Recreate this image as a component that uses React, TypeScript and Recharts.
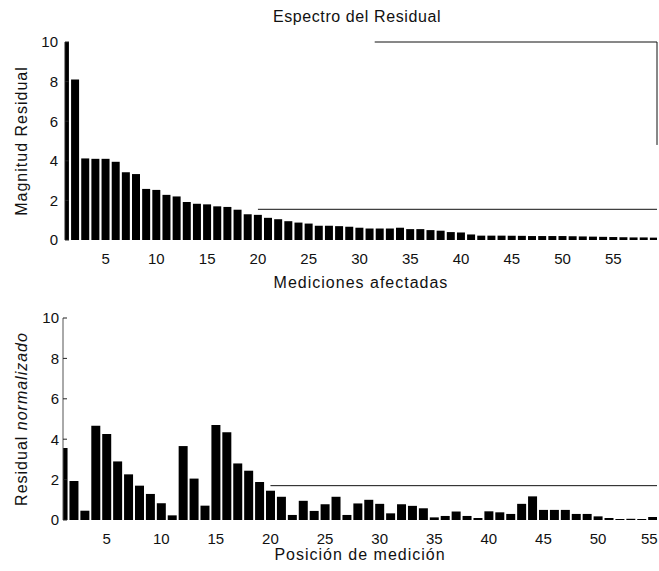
import { BarChart, Bar, XAxis, YAxis, ReferenceLine, Label } from 'recharts';

// Espectro del residual (panel superior)
const posicionesEspectro = [
  1, 2, 3, 4, 5, 6, 7, 8, 9, 10, 11, 12, 13, 14, 15, 16, 17, 18, 19, 20,
  21, 22, 23, 24, 25, 26, 27, 28, 29, 30, 31, 32, 33, 34, 35, 36, 37, 38, 39, 40,
  41, 42, 43, 44, 45, 46, 47, 48, 49, 50, 51, 52, 53, 54, 55, 56, 57, 58, 59,
];
const magnitudResidual = [
  10.0, 8.1, 4.12, 4.1, 4.1, 3.95, 3.42, 3.33, 2.58, 2.53, 2.28, 2.2, 1.92, 1.83, 1.8, 1.7, 1.67, 1.53, 1.3, 1.27,
  1.12, 1.05, 0.95, 0.88, 0.83, 0.72, 0.72, 0.7, 0.67, 0.62, 0.58, 0.58, 0.58, 0.62, 0.55, 0.55, 0.5, 0.47, 0.4, 0.38,
  0.28, 0.22, 0.22, 0.22, 0.21, 0.21, 0.2, 0.2, 0.2, 0.2, 0.19, 0.18, 0.17, 0.16, 0.15, 0.14, 0.13, 0.13, 0.12,
];

// Residual normalizado (panel inferior)
const posicionesMedicion = [
  1, 2, 3, 4, 5, 6, 7, 8, 9, 10, 11, 12, 13, 14, 15, 16, 17, 18, 19, 20,
  21, 22, 23, 24, 25, 26, 27, 28, 29, 30, 31, 32, 33, 34, 35, 36, 37, 38, 39, 40,
  41, 42, 43, 44, 45, 46, 47, 48, 49, 50, 51, 52, 53, 54, 55,
];
const residualNormalizado = [
  3.56, 1.93, 0.46, 4.67, 4.26, 2.9, 2.26, 1.7, 1.29, 0.83, 0.23, 3.66, 2.05, 0.71, 4.7, 4.34, 2.8, 2.44, 1.88, 1.45,
  1.15, 0.25, 0.95, 0.45, 0.78, 1.15, 0.25, 0.82, 1.0, 0.8, 0.33, 0.78, 0.7, 0.58, 0.13, 0.2, 0.42, 0.2, 0.1, 0.43,
  0.38, 0.3, 0.8, 1.17, 0.5, 0.5, 0.5, 0.3, 0.3, 0.18, 0.1, 0.05, 0.06, 0.05, 0.15,
];

const ticksX = [5, 10, 15, 20, 25, 30, 35, 40, 45, 50, 55];
const ticksArribaEspectro = [30, 35, 40, 45, 50, 55];
const ticksY = [0, 2, 4, 6, 8, 10];
const ticksDerecha = [2, 4, 6, 8];

// lineas horizontales sueltas que se ven en el escaneo
const nivelEspectro = 1.55;
const nivelMedicion = 1.7;

const espectroRows = posicionesEspectro.map((pos, i) => ({ pos, magnitud: magnitudResidual[i] }));
const medicionRows = posicionesMedicion.map((pos, i) => ({ pos, residual: residualNormalizado[i] }));

const FUENTE = '"Liberation Sans", Arial, Helvetica, sans-serif';
const tickStyle = { fontSize: 15, fill: '#111', fontFamily: FUENTE };
const textoEje = { fontSize: 16, fill: '#111', fontFamily: FUENTE, letterSpacing: 1 };

const TituloX = ({ viewBox, texto, dy }: any) => {
  const cx = viewBox.x + viewBox.width / 2;
  return (
    <text x={cx} y={viewBox.y + dy} textAnchor="middle" style={textoEje}>
      {texto}
    </text>
  );
};

const TituloY = ({ viewBox, children }: any) => {
  const cx = 27;
  const cy = viewBox.y + viewBox.height / 2;
  return (
    <text x={cx} y={cy} transform={`rotate(-90, ${cx}, ${cy})`} textAnchor="middle" style={textoEje}>
      {children}
    </text>
  );
};

// el ultimo numero queda pegado al borde derecho, se alinea a la derecha
const TickPosicion = ({ x, y, payload }: any) => {
  const ultimo = payload.value === ticksX[ticksX.length - 1];
  return (
    <text
      x={ultimo ? x + 5 : x} y={y} dy="0.71em" textAnchor={ultimo ? 'end' : 'middle'}
      fontSize={15} fill="#111" fontFamily={FUENTE}
    >
      {payload.value}
    </text>
  );
};

const App = () => {
  return (
    <div style={{ position: 'absolute', left: 0, top: 0, width: 659, height: 571, background: '#fff' }}>
      <div
        style={{
          position: 'absolute', left: 0, top: 8, width: 714, textAlign: 'center',
          fontFamily: FUENTE, fontSize: 16, letterSpacing: 0.6, color: '#111',
        }}
      >
        Espectro del Residual
      </div>

      {/* panel superior */}
      <div style={{ position: 'absolute', left: 0, top: 0 }}>
        <BarChart
          width={659} height={290} data={espectroRows} barSize={8}
          margin={{ top: 42, right: 0, bottom: 30, left: 0 }} style={{ overflow: 'visible' }}
        >
          <XAxis
            dataKey="pos" type="number" domain={[1, 59.3]} allowDataOverflow ticks={ticksX} interval={0}
            axisLine={false} tickLine={false} tick={tickStyle} tickMargin={7} height={20}
          >
            <Label content={(p: any) => <TituloX viewBox={p.viewBox} texto="Mediciones afectadas" dy={48} />} />
          </XAxis>
          <XAxis
            xAxisId="top" orientation="top" type="number" domain={[1, 59.3]} ticks={ticksArribaEspectro} interval={0}
            axisLine={false} tick={false} tickSize={-4} tickLine={{ stroke: '#222' }} height={0}
          />
          <YAxis
            type="number" domain={[0, 10]} ticks={ticksY} interval={0} width={65}
            axisLine={{ stroke: '#222' }} tickLine={{ stroke: '#222' }} tickSize={-4} tickMargin={11} tick={tickStyle}
          >
            <Label content={(p: any) => <TituloY viewBox={p.viewBox}>Magnitud Residual</TituloY>} />
          </YAxis>
          <YAxis
            yAxisId="right" orientation="right" type="number" domain={[0, 10]} ticks={ticksDerecha} interval={0} width={2}
            axisLine={false} tick={false} tickSize={-4} tickLine={{ stroke: '#222' }}
          />
          <Bar dataKey="magnitud" fill="#000" isAnimationActive={false} />
          <ReferenceLine segment={[{ x: 20, y: nivelEspectro }, { x: 59.3, y: nivelEspectro }]} stroke="#111" strokeWidth={1} />
          <ReferenceLine segment={[{ x: 31.5, y: 10 }, { x: 59.3, y: 10 }]} stroke="#111" strokeWidth={1} />
          <ReferenceLine segment={[{ x: 59.3, y: 10 }, { x: 59.3, y: 4.8 }]} stroke="#111" strokeWidth={1} />
        </BarChart>
      </div>

      {/* panel inferior */}
      <div style={{ position: 'absolute', left: 0, top: 290 }}>
        <BarChart
          width={659} height={281} data={medicionRows} barSize={9}
          margin={{ top: 28, right: 0, bottom: 31, left: 0 }} style={{ overflow: 'visible' }}
        >
          <XAxis
            dataKey="pos" type="number" domain={[1, 55.4]} allowDataOverflow ticks={ticksX} interval={0}
            axisLine={false} tickLine={false} tick={<TickPosicion />} tickMargin={7} height={20}
          >
            <Label content={(p: any) => <TituloX viewBox={p.viewBox} texto="Posición de medición" dy={40} />} />
          </XAxis>
          <XAxis
            xAxisId="top" orientation="top" type="number" domain={[1, 55.4]} ticks={ticksX} interval={0}
            axisLine={{ stroke: '#333' }} tick={false} tickSize={-4} tickLine={{ stroke: '#222' }} height={0}
          />
          <YAxis
            type="number" domain={[0, 10]} ticks={ticksY} interval={0} width={63}
            axisLine={{ stroke: '#555' }} tickLine={{ stroke: '#222' }} tickSize={-4} tickMargin={8} tick={tickStyle}
          >
            <Label
              content={(p: any) => (
                <TituloY viewBox={p.viewBox}>
                  Residual <tspan fontStyle="italic">normalizado</tspan>
                </TituloY>
              )}
            />
          </YAxis>
          <YAxis
            yAxisId="right" orientation="right" type="number" domain={[0, 10]} ticks={ticksDerecha} interval={0} width={2}
            axisLine={false} tick={false} tickSize={-4} tickLine={{ stroke: '#222' }}
          />
          <Bar dataKey="residual" fill="#000" isAnimationActive={false} />
          <ReferenceLine segment={[{ x: 20, y: nivelMedicion }, { x: 55.4, y: nivelMedicion }]} stroke="#111" strokeWidth={1} />
        </BarChart>
      </div>
    </div>
  );
};

export default App;
